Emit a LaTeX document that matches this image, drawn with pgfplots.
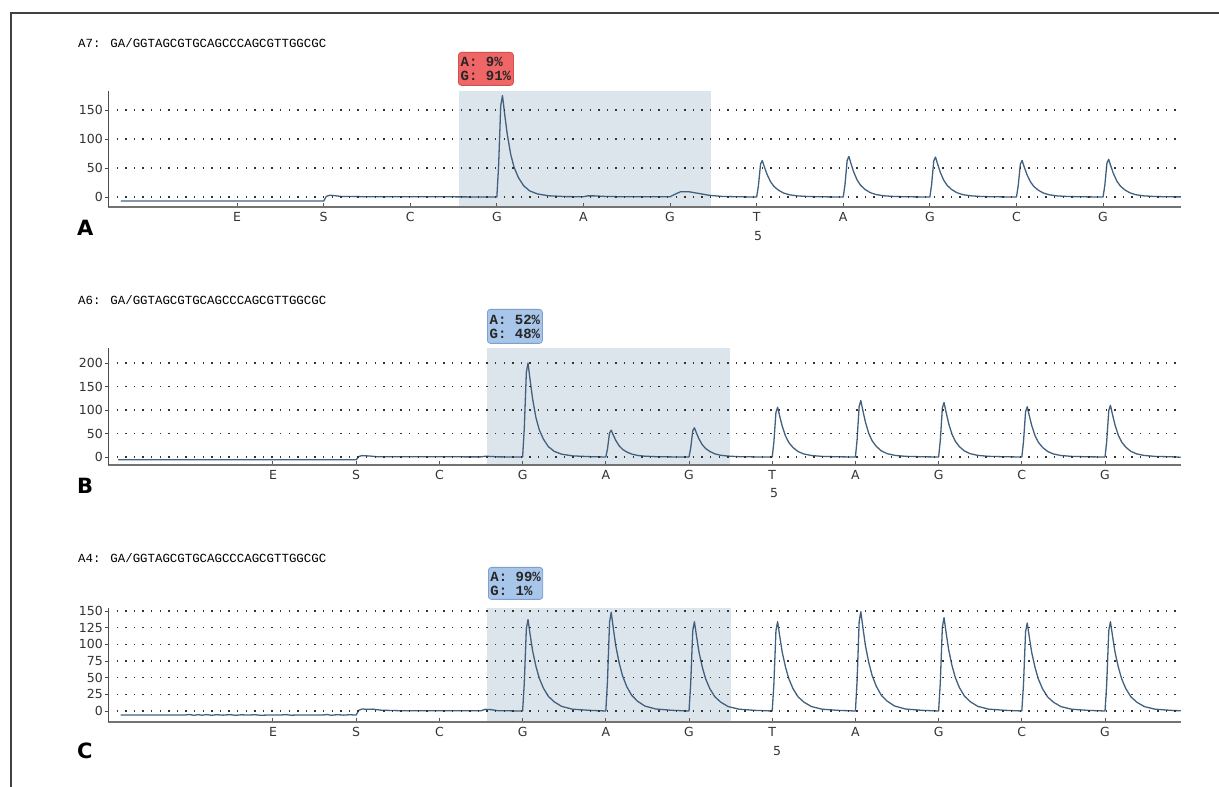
\documentclass[border=0pt]{standalone}
\usepackage{pgfplots}
\pgfplotsset{compat=1.18}
\usepackage{fontspec}
\setmainfont{DejaVu Sans}
\newfontfamily\monof{Liberation Mono}
\definecolor{trace}{HTML}{41617F}
\definecolor{shade}{HTML}{DCE4EC}
\definecolor{redbox}{HTML}{F06666}
\definecolor{redborder}{HTML}{D45050}
\definecolor{bluebox}{HTML}{A8C5EA}
\definecolor{blueborder}{HTML}{7F9FCC}
\pgfplotsset{
  seq/.style={
    scale only axis, width=1073pt, anchor=south west,
    axis x line*=bottom, axis y line*=left,
    xtick={0,...,10}, xticklabels={E,S,C,G,A,G,T,A,G,C,G},
    tick align=outside, major tick length=3.5pt,
    x tick style={yshift=3.5pt, color=black!65, line width=1pt},
    y tick style={color=black!70, line width=0.8pt},
    ymajorgrids,
    grid style={black!80, line width=1.3pt, dash pattern=on 1.3pt off 7.3pt},
    tick label style={font=\fontsize{12.5}{14}\selectfont, text=black!80},
    yticklabel style={inner xsep=1.5pt},
    xticklabel style={yshift=2pt},
    /pgf/number format/assume math mode=true,
    x axis line style={black!55, line width=2pt},
    y axis line style={black!70, line width=1pt},
    axis on top,
  },
}
\tikzset{
  tr/.style={color=trace, line width=1.3pt, line join=round, mark=none},
  boxtext/.style={rounded corners=3pt, line width=0.8pt, anchor=north west,
    inner xsep=2pt, inner ysep=1pt, align=left, text=black!85,
    font=\monof\bfseries\fontsize{14}{14}\selectfont},
}
\begin{document}
\begin{tikzpicture}
\useasboundingbox (0,0) rectangle (1219pt,787pt);
% outer frame
\draw[black!75, line width=1.5pt] (11pt,-5pt) -- (11pt,774pt) -- (1230pt,774pt);
% titles
\node[anchor=west, inner sep=0] at (78pt,744pt) {\monof\fontsize{12.4}{14}\selectfont A7: GA/GGTAGCGTGCAGCCCAGCGTTGGCGC};
\node[anchor=west, inner sep=0] at (78pt,487pt) {\monof\fontsize{12.4}{14}\selectfont A6: GA/GGTAGCGTGCAGCCCAGCGTTGGCGC};
\node[anchor=west, inner sep=0] at (78pt,229pt) {\monof\fontsize{12.4}{14}\selectfont A4: GA/GGTAGCGTGCAGCCCAGCGTTGGCGC};
% panel letters
\node[anchor=west, inner sep=0] at (77pt,559pt) {\bfseries\fontsize{21}{24}\selectfont A};
\node[anchor=west, inner sep=0] at (77pt,301pt) {\bfseries\fontsize{21}{24}\selectfont B};
\node[anchor=west, inner sep=0] at (77pt,36pt) {\bfseries\fontsize{21}{24}\selectfont C};
% "5" labels
\node[text=black!80] at (758pt,551pt) {\fontsize{12.5}{14}\selectfont 5};
\node[text=black!80] at (774pt,294pt) {\fontsize{12.5}{14}\selectfont 5};
\node[text=black!80] at (777pt,36pt) {\fontsize{12.5}{14}\selectfont 5};

% ---------- Panel A ----------
\begin{axis}[seq, at={(108pt,580pt)}, height=116pt,
  xmin=-1.49, xmax=10.90, ymin=-17.2, ymax=182.8, ytick={0,50,100,150}]
\addplot[draw=none, fill=shade, forget plot] coordinates {(2.563,-17.2) (5.473,-17.2) (5.473,182.8) (2.563,182.8)} -- cycle;
\addplot[tr] coordinates {
(-1.34,-7) (1.0,-7) (1.03,1) (1.07,3) (1.12,2.5) (1.2,1) (1.5,0.5) (2.5,0.3) (2.98,0)
(3,0) (3.02,52.5) (3.045,157.5) (3.065,175) (3.09,143.5) (3.12,108.5) (3.16,73.5) (3.2,50.8) (3.25,33.3) (3.31,19.3) (3.38,10.5) (3.47,5.3) (3.6,2.1) (3.8,0.7)
(4.0,0.5) (4.05,2) (4.12,2) (4.25,1) (4.5,0.3) (4.98,0.3) (5.0,0.5) (5.06,5) (5.12,9) (5.22,9) (5.32,6.5) (5.45,3) (5.6,1) (5.8,0.4) (5.98,0)
(6,0) (6.02,18.9) (6.045,56.7) (6.065,63) (6.09,51.7) (6.12,39.1) (6.16,26.5) (6.2,18.3) (6.25,12) (6.31,6.9) (6.38,3.8) (6.47,1.9) (6.6,0.8) (6.8,0.3)
(7,0) (7.02,21) (7.045,63) (7.065,70) (7.09,57.4) (7.12,43.4) (7.16,29.4) (7.2,20.3) (7.25,13.3) (7.31,7.7) (7.38,4.2) (7.47,2.1) (7.6,0.8) (7.8,0.3)
(8,0) (8.02,20.7) (8.045,62.1) (8.065,69) (8.09,56.6) (8.12,42.8) (8.16,29) (8.2,20) (8.25,13.1) (8.31,7.6) (8.38,4.1) (8.47,2.1) (8.6,0.8) (8.8,0.3)
(9,0) (9.02,18.9) (9.045,56.7) (9.065,63) (9.09,51.7) (9.12,39.1) (9.16,26.5) (9.2,18.3) (9.25,12) (9.31,6.9) (9.38,3.8) (9.47,1.9) (9.6,0.8) (9.8,0.3)
(10,0) (10.02,19.5) (10.045,58.5) (10.065,65) (10.09,53.3) (10.12,40.3) (10.16,27.3) (10.2,18.9) (10.25,12.4) (10.31,7.2) (10.38,3.9) (10.47,2) (10.6,0.8) (10.8,0.3) (10.9,0.2)
};
\end{axis}

% ---------- Panel B ----------
\begin{axis}[seq, at={(108pt,322pt)}, height=117pt,
  xmin=-1.983, xmax=10.913, ymin=-17, ymax=232, ytick={0,50,100,150,200}]
\addplot[draw=none, fill=shade, forget plot] coordinates {(2.572,-17) (5.493,-17) (5.493,232) (2.572,232)} -- cycle;
\addplot[tr] coordinates {
(-1.86,-6) (1.0,-6) (1.03,1) (1.07,3) (1.12,2.5) (1.17,2) (1.25,0.5) (2.5,0.3) (2.55,1.5) (2.62,1.2) (2.7,0.3) (2.98,0)
(3,0) (3.02,60) (3.045,180) (3.065,200) (3.09,164) (3.12,124) (3.16,84) (3.2,58) (3.25,38) (3.31,22) (3.38,12) (3.47,6) (3.6,2.4) (3.8,0.8)
(4,0) (4.02,17.1) (4.045,51.3) (4.065,57) (4.09,46.7) (4.12,35.3) (4.16,23.9) (4.2,16.5) (4.25,10.8) (4.31,6.3) (4.38,3.4) (4.47,1.7) (4.6,0.7) (4.8,0.2)
(5,0) (5.02,18.6) (5.045,55.8) (5.065,62) (5.09,50.8) (5.12,38.4) (5.16,26) (5.2,18) (5.25,11.8) (5.31,6.8) (5.38,3.7) (5.47,1.9) (5.6,0.7) (5.8,0.2)
(6,0) (6.02,31.8) (6.045,95.4) (6.065,106) (6.09,86.9) (6.12,65.7) (6.16,44.5) (6.2,30.7) (6.25,20.1) (6.31,11.7) (6.38,6.4) (6.47,3.2) (6.6,1.3) (6.8,0.4)
(7,0) (7.02,36) (7.045,108) (7.065,120) (7.09,98.4) (7.12,74.4) (7.16,50.4) (7.2,34.8) (7.25,22.8) (7.31,13.2) (7.38,7.2) (7.47,3.6) (7.6,1.4) (7.8,0.5)
(8,0) (8.02,34.8) (8.045,104.4) (8.065,116) (8.09,95.1) (8.12,71.9) (8.16,48.7) (8.2,33.6) (8.25,22) (8.31,12.8) (8.38,7) (8.47,3.5) (8.6,1.4) (8.8,0.5)
(9,0) (9.02,32.1) (9.045,96.3) (9.065,107) (9.09,87.7) (9.12,66.3) (9.16,44.9) (9.2,31) (9.25,20.3) (9.31,11.8) (9.38,6.4) (9.47,3.2) (9.6,1.3) (9.8,0.4)
(10,0) (10.02,33) (10.045,99) (10.065,110) (10.09,90.2) (10.12,68.2) (10.16,46.2) (10.2,31.9) (10.25,20.9) (10.31,12.1) (10.38,6.6) (10.47,3.3) (10.6,1.3) (10.8,0.4) (10.91,-0.5)
};
\end{axis}

% ---------- Panel C ----------
\begin{axis}[seq, at={(108pt,65pt)}, height=114pt,
  xmin=-1.983, xmax=10.913, ymin=-16.5, ymax=154.5, ytick={0,25,50,75,100,125,150}]
\addplot[draw=none, fill=shade, forget plot] coordinates {(2.572,-16.5) (5.505,-16.5) (5.505,154.5) (2.572,154.5)} -- cycle;
\addplot[tr] coordinates {
(-1.83,-6) (-1.06,-6) (-1.0,-5.3) (-0.95,-6.5) (-0.9,-5.5) (-0.85,-6.3) (-0.8,-5.4) (-0.74,-6.4) (-0.68,-5.6) (-0.6,-6.2) (-0.52,-5.5) (-0.45,-6.4) (-0.38,-5.7) (-0.3,-6.1) (-0.22,-5.6) (-0.15,-6.4) (-0.05,-6) (0.1,-6) (0.15,-5.4) (0.22,-6.3) (0.3,-6) (0.6,-6) (0.65,-5.3) (0.7,-6.4) (0.78,-5.5) (0.85,-6.2) (0.92,-5.6) (0.98,-6)
(1.0,-6) (1.03,1) (1.07,3) (1.13,2.5) (1.2,2.8) (1.3,1.2) (1.5,0.5) (2.5,0.3) (2.55,2.5) (2.62,2) (2.7,0.5) (2.98,0)
(3,0) (3.02,41.1) (3.045,123.3) (3.065,137) (3.09,115.1) (3.12,90.4) (3.16,67.1) (3.2,49.3) (3.25,34.3) (3.31,21.9) (3.38,13.7) (3.47,6.9) (3.6,2.7) (3.8,1)
(4,0) (4.02,44.4) (4.045,133.2) (4.065,148) (4.09,124.3) (4.12,97.7) (4.16,72.5) (4.2,53.3) (4.25,37) (4.31,23.7) (4.38,14.8) (4.47,7.4) (4.6,3) (4.8,1)
(5,0) (5.02,40.2) (5.045,120.6) (5.065,134) (5.09,112.6) (5.12,88.4) (5.16,65.7) (5.2,48.2) (5.25,33.5) (5.31,21.4) (5.38,13.4) (5.47,6.7) (5.6,2.7) (5.8,0.9)
(6,0) (6.02,40.2) (6.045,120.6) (6.065,134) (6.09,112.6) (6.12,88.4) (6.16,65.7) (6.2,48.2) (6.25,33.5) (6.31,21.4) (6.38,13.4) (6.47,6.7) (6.6,2.7) (6.8,0.9)
(7,0) (7.02,44.7) (7.045,134.1) (7.065,149) (7.09,125.2) (7.12,98.3) (7.16,73) (7.2,53.6) (7.25,37.3) (7.31,23.8) (7.38,14.9) (7.47,7.5) (7.6,3) (7.8,1)
(8,0) (8.02,42) (8.045,126) (8.065,140) (8.09,117.6) (8.12,92.4) (8.16,68.6) (8.2,50.4) (8.25,35) (8.31,22.4) (8.38,14) (8.47,7) (8.6,2.8) (8.8,1)
(9,0) (9.02,39.6) (9.045,118.8) (9.065,132) (9.09,110.9) (9.12,87.1) (9.16,64.7) (9.2,47.5) (9.25,33) (9.31,21.1) (9.38,13.2) (9.47,6.6) (9.6,2.6) (9.8,0.9)
(10,0) (10.02,40.2) (10.045,120.6) (10.065,134) (10.09,112.6) (10.12,88.4) (10.16,65.7) (10.2,48.2) (10.25,33.5) (10.31,21.4) (10.38,13.4) (10.47,6.7) (10.6,2.7) (10.8,0.9) (10.91,0.3)
};
\end{axis}

% label boxes
\node[boxtext, draw=redborder, fill=redbox, minimum width=55pt, minimum height=33pt]
  at (458pt,735pt) {A: 9\%\\G: 91\%};
\node[boxtext, draw=blueborder, fill=bluebox, minimum width=55pt, minimum height=34pt]
  at (487pt,478pt) {A: 52\%\\G: 48\%};
\node[boxtext, draw=blueborder, fill=bluebox, minimum width=54pt, minimum height=32pt]
  at (488pt,220pt) {A: 99\%\\G: 1\%};
\end{tikzpicture}
\end{document}
